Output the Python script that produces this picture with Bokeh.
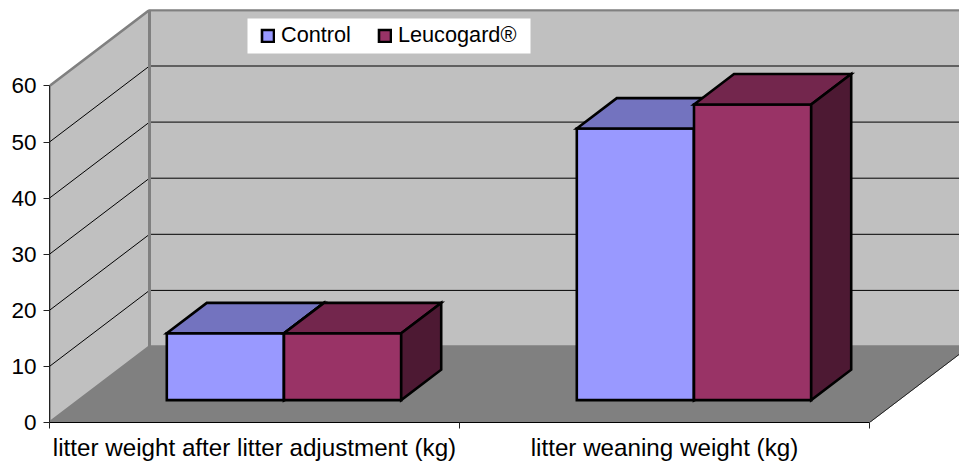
from bokeh.plotting import figure
from bokeh.models import FixedTicker, Legend, LegendItem, Range1d
from bokeh.embed import file_html
from bokeh.resources import INLINE

categories = ["litter weight after litter adjustment (kg)", "litter weaning weight (kg)"]
series_names = ["Control", "Leucogard®"]
control = [11.9, 48.4]
leucogard = [11.9, 52.7]
value_ticks = [0, 10, 20, 30, 40, 50, 60]

FONT = "Liberation Sans"
PX_CAT = 410.0
PX_VAL = 5.61
W, H = 959, 463
L, R, T, B = 49, 0, 9, 41
DX = 100 / PX_CAT      # full depth of the box, horizontally (category units)
DY = 76 / PX_VAL       # full depth of the box, vertically (value units)
VMAX = value_ticks[-1]
NCAT = len(categories)
X_END = (W - L - R) / PX_CAT
Y_END = (H - T - B) / PX_VAL


def proj(x, y, z):
    return x + z * DX, y + z * DY


def poly(points):
    xs, ys = zip(*[proj(*pt) for pt in points])
    return list(xs), list(ys)


p = figure(
    width=W, height=H, output_backend="svg", toolbar_location=None,
    x_range=Range1d(0, X_END), y_range=Range1d(0, Y_END),
    min_border_left=L, min_border_right=R, min_border_top=T, min_border_bottom=B,
    frame_width=W - L - R, frame_height=H - T - B,
    background_fill_color="white", border_fill_color="white", outline_line_color=None,
)
p.grid.visible = False

# walls and floor
RIGHT = NCAT
wall_style = dict(fill_color="#C0C0C0", line_color="#808080", line_width=2.5)
p.patch(*poly([(0, 0, 0), (0, VMAX, 0), (0, VMAX, 1), (0, 0, 1)]), **wall_style)
p.patch(*poly([(0, 0, 1), (0, VMAX, 1), (RIGHT, VMAX, 1), (RIGHT, 0, 1)]), **wall_style)
p.patch(*poly([(0, 0, 0), (0, 0, 1), (RIGHT, 0, 1), (RIGHT, 0, 0)]),
        fill_color="#808080", line_color="#808080", line_width=1)
fx, fy = poly([(RIGHT, 0, 0), (RIGHT, 0, 1)])
p.line(fx, fy, line_color="#222222", line_width=1)

# gridlines
gx, gy = [], []
for v in value_ticks[1:-1]:
    xs, ys = poly([(0, v, 0), (0, v, 1), (RIGHT, v, 1)])
    gx.append(xs)
    gy.append(ys)
p.multi_line(gx, gy, line_color="black", line_width=1)
xs, ys = poly([(0, VMAX, 1), (RIGHT, VMAX, 1)])
p.line(xs, ys, line_color="#808080", line_width=2.5)
xs, ys = poly([(0, 0, 1), (0, VMAX, 1)])
p.line(xs, ys, line_color="#808080", line_width=3)

# bars
BAR_W = 117.2 / PX_CAT
Z0, Z1 = 0.295, 0.695
colors = [("#9999FF", "#7373BF", "#4D4D80"), ("#993366", "#73264D", "#4D1933")]
outline = dict(line_color="black", line_width=2.6, line_join="miter")
first = {}
for c in range(NCAT):
    centre = c + 0.5
    for s, vals in enumerate([control, leucogard]):
        x0 = centre + (s - 1) * BAR_W
        x1 = x0 + BAR_W
        v = vals[c]
        front, top, side = colors[s]
        r = p.patch(*poly([(x0, 0, Z0), (x0, v, Z0), (x1, v, Z0), (x1, 0, Z0)]),
                    fill_color=front, **outline)
        first.setdefault(s, r)
        p.patch(*poly([(x0, v, Z0), (x0, v, Z1), (x1, v, Z1), (x1, v, Z0)]),
                fill_color=top, **outline)
        p.patch(*poly([(x1, 0, Z0), (x1, v, Z0), (x1, v, Z1), (x1, 0, Z1)]),
                fill_color=side, **outline)

# axes
yax = p.yaxis[0]
yax.ticker = FixedTicker(ticks=value_ticks)
yax.bounds = (0, VMAX)
yax.axis_line_color = "#222222"
yax.major_tick_line_color = "#222222"
yax.major_tick_out = 6
yax.major_tick_in = 0
yax.minor_tick_out = 0
yax.minor_tick_in = 0
yax.major_label_standoff = 7
yax.major_label_text_font = FONT
yax.major_label_text_font_size = "22.5px"
yax.major_label_text_color = "black"

xax = p.xaxis[0]
centres = [i + 0.5 for i in range(NCAT)]
xax.ticker = FixedTicker(ticks=centres, minor_ticks=list(range(NCAT + 1)))
xax.major_label_overrides = {c: t for c, t in zip(centres, categories)}
xax.bounds = (0, NCAT)
xax.axis_line_color = "black"
xax.major_tick_out = 0
xax.major_tick_in = 0
xax.minor_tick_out = 6
xax.minor_tick_in = 0
xax.minor_tick_line_color = "#222222"
xax.major_label_standoff = 5
xax.major_label_text_font = FONT
xax.major_label_text_font_size = "24.2px"
xax.major_label_text_color = "black"

# white legend panel (pixel position converted to data units)
frame_bottom_px = H - B
p.quad(left=[(247 - L) / PX_CAT], right=[(530 - L) / PX_CAT],
       top=[(frame_bottom_px - 18) / PX_VAL], bottom=[(frame_bottom_px - 53) / PX_VAL],
       fill_color="white", line_color=None)

legend = Legend(
    items=[LegendItem(label=n, renderers=[first[i]]) for i, n in enumerate(series_names)],
    orientation="horizontal", location=(211, 374),
    label_text_font=FONT, label_text_font_size="21.7px", label_text_color="black",
    glyph_width=15, glyph_height=15, label_standoff=6, spacing=26,
    padding=0, margin=0, border_line_color=None, background_fill_alpha=0,
)
p.add_layout(legend, "center")

open("out.html", "w").write(file_html(p, INLINE))
